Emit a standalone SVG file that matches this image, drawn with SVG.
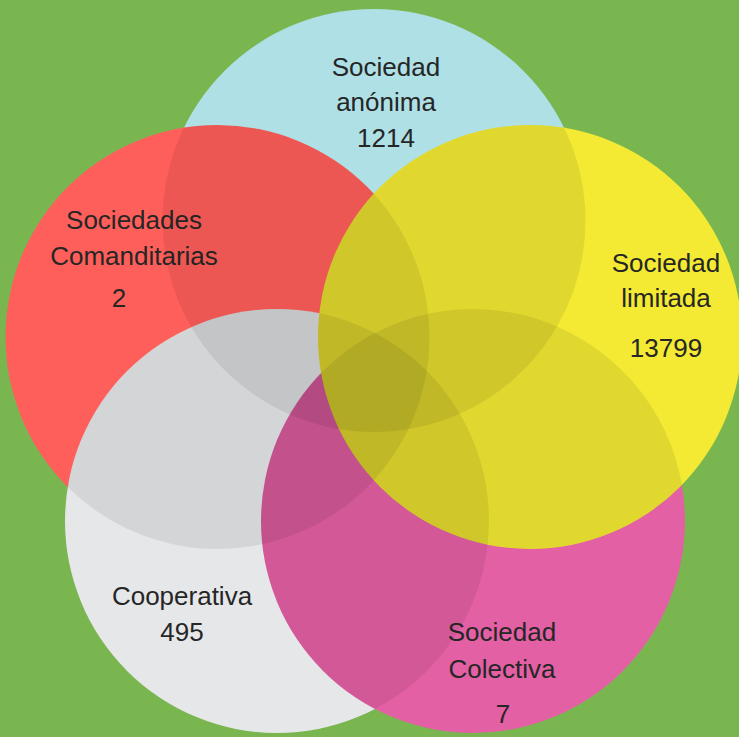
<svg xmlns="http://www.w3.org/2000/svg" width="739" height="737" viewBox="0 0 739 737">
  <style>
    .lbl { font-family: "Liberation Sans", Arial, sans-serif; font-size: 26px; fill: #262626; text-anchor: middle; }
    .shade { fill: #000; fill-opacity: 0.075; }
  </style>
  <defs>
    <clipPath id="c1"><circle cx="374" cy="220.5" r="211.5"/></clipPath>
    <clipPath id="c12"><circle cx="374" cy="220.5" r="211.5"/><circle cx="217.5" cy="337" r="212"/></clipPath>
    <clipPath id="c123"><circle cx="374" cy="220.5" r="211.5"/><circle cx="217.5" cy="337" r="212"/><circle cx="277" cy="521" r="212"/></clipPath>
    <clipPath id="c1234"><circle cx="374" cy="220.5" r="211.5"/><circle cx="217.5" cy="337" r="212"/><circle cx="277" cy="521" r="212"/><circle cx="473" cy="521" r="212"/></clipPath>
  </defs>
  <rect x="0" y="0" width="739" height="737" fill="#7ab650"/>

  <g id="sociedad-anonima">
    <circle cx="374" cy="220.5" r="211.5" fill="#aee0e5"/>
    <text class="lbl" x="386" y="75.5">Sociedad</text>
    <text class="lbl" x="386" y="111">anónima</text>
    <text class="lbl" x="386" y="147">1214</text>
  </g>

  <g id="sociedades-comanditarias">
    <circle cx="217.5" cy="337" r="212" fill="#ff5f5a"/>
    <text class="lbl" x="134" y="229">Sociedades</text>
    <text class="lbl" x="134" y="265">Comanditarias</text>
    <text class="lbl" x="119" y="307">2</text>
  </g>

  <g id="cooperativa">
    <circle cx="277" cy="521" r="212" fill="#e6e7e9"/>
    <text class="lbl" x="182" y="605">Cooperativa</text>
    <text class="lbl" x="182" y="641">495</text>
  </g>

  <g id="sociedad-colectiva">
    <circle cx="473" cy="521" r="212" fill="#e360a5"/>
    <text class="lbl" x="502" y="641">Sociedad</text>
    <text class="lbl" x="502" y="677.5">Colectiva</text>
    <text class="lbl" x="503" y="722.5">7</text>
  </g>

  <g id="sociedad-limitada">
    <circle cx="530" cy="337" r="212" fill="#f4ea33"/>
    <text class="lbl" x="666" y="271.5">Sociedad</text>
    <text class="lbl" x="666" y="307">limitada</text>
    <text class="lbl" x="666" y="357">13799</text>
  </g>

  <g id="overlap-shading">
    <circle class="shade" cx="217.5" cy="337" r="212" clip-path="url(#c1)"/>
    <circle class="shade" cx="277" cy="521" r="212" clip-path="url(#c12)"/>
    <circle class="shade" cx="473" cy="521" r="212" clip-path="url(#c123)"/>
    <circle class="shade" cx="530" cy="337" r="212" clip-path="url(#c1234)"/>
  </g>
</svg>
